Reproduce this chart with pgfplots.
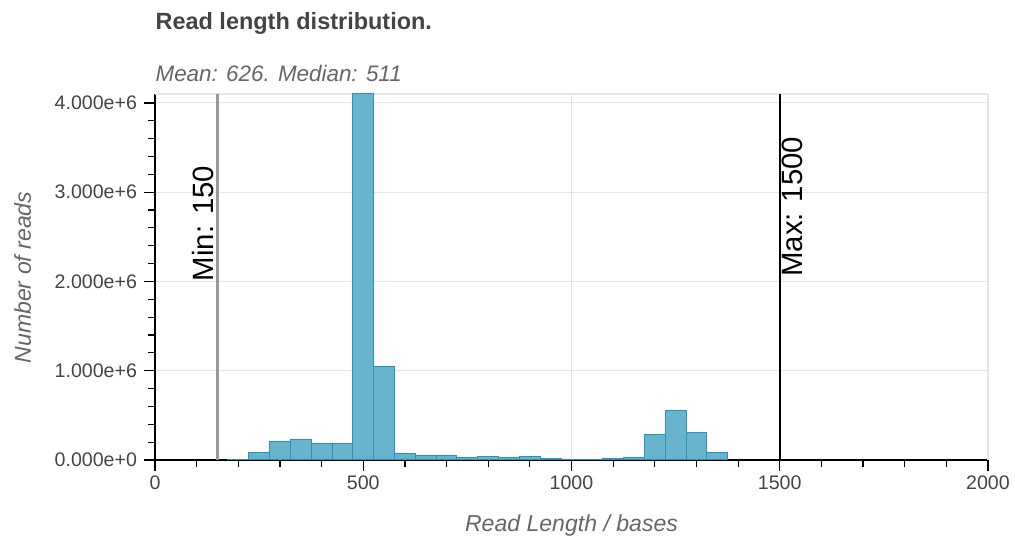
\documentclass[border=0pt]{standalone}
\usepackage{fontspec}
\setmainfont{Liberation Sans}
\usepackage{pgfplots}
\pgfplotsset{compat=1.18}
\definecolor{txt}{HTML}{444444}
\definecolor{txtlight}{HTML}{666666}
\definecolor{barfill}{RGB}{103,180,204}
\definecolor{baredge}{RGB}{41,146,184}
\definecolor{gridc}{HTML}{E5E5E5}
\begin{document}
\begin{tikzpicture}
\useasboundingbox (0,0) rectangle (761.25pt,403.5pt);
\node[anchor=base west, text=txt, font=\fontsize{17.6}{20}\selectfont\bfseries, inner sep=0] at (116.5pt,381pt) {Read length distribution.};
\node[anchor=base west, text=txtlight, font=\fontsize{16.8}{19}\selectfont\itshape, inner sep=0] at (116.5pt,342.2pt) {Mean: 626. Median: 511};
\begin{axis}[
 at={(116.25pt,58.5pt)}, anchor=south west, scale only axis,
 width=624.75pt, height=274.5pt,
 xmin=0, xmax=2000, ymin=0, ymax=4.1e6,
 axis x line*=bottom, axis y line*=left,
 axis line style={black, line width=1pt},
 xtick={0,500,1000,1500,2000}, minor x tick num=4,
 ytick={0,1000000,2000000,3000000,4000000}, minor y tick num=4,
 yticklabels={0.000e+0,1.000e+6,2.000e+6,3.000e+6,4.000e+6},
 scaled y ticks=false,
 tick align=outside, major tick length=8pt, minor tick length=5pt,
 every tick/.style={black, line width=0.9pt},
 xmajorgrids, ymajorgrids, major grid style={gridc, line width=0.8pt},
 tick label style={text=txt, font=\fontsize{14.7}{16}\selectfont},
 yticklabel style={xshift=-2pt},
 /pgf/number format/assume math mode=true,
 xticklabel style={/pgf/number format/1000 sep={}},
 xlabel={Read Length / bases},
 ylabel={Number of reads},
 label style={text=txtlight, font=\fontsize{17.3}{19}\selectfont\itshape},
 xlabel style={at={(axis description cs:0.5,-0.1954)}, anchor=base},
 ylabel style={at={(axis description cs:-0.1489,0.4986)}, anchor=base},
]
\draw[gridc, line width=0.8pt] (rel axis cs:0,1) -- (rel axis cs:1,1) -- (rel axis cs:1,0);
\addplot[ybar, bar width=50, fill=barfill, draw=baredge, line width=0.75pt] coordinates {
(200,10000) (250,86000) (300,209000) (350,231000) (400,187000) (450,190000)
(500,4100000) (550,1042000) (600,68000) (650,45000) (700,50000) (750,30000)
(800,40000) (850,30000) (900,40000) (950,12000) (1000,5000) (1050,10000)
(1100,20000) (1150,28000) (1200,289000) (1250,551000) (1300,305000) (1350,82000)
};
\addplot[gray!80, line width=1.6pt] coordinates {(150,0) (150,4100000)};
\addplot[black, line width=1.8pt] coordinates {(1500,0) (1500,4100000)};
\node[rotate=90, anchor=south west, font=\fontsize{22}{26}\selectfont, inner sep=0] at ([xshift=-2.5pt]axis cs:150,2000000) {Min: 150};
\node[rotate=90, anchor=north west, font=\fontsize{22}{26}\selectfont, inner sep=0] at ([xshift=1.5pt]axis cs:1500,2050000) {Max: 1500};
\end{axis}
\end{tikzpicture}
\end{document}
